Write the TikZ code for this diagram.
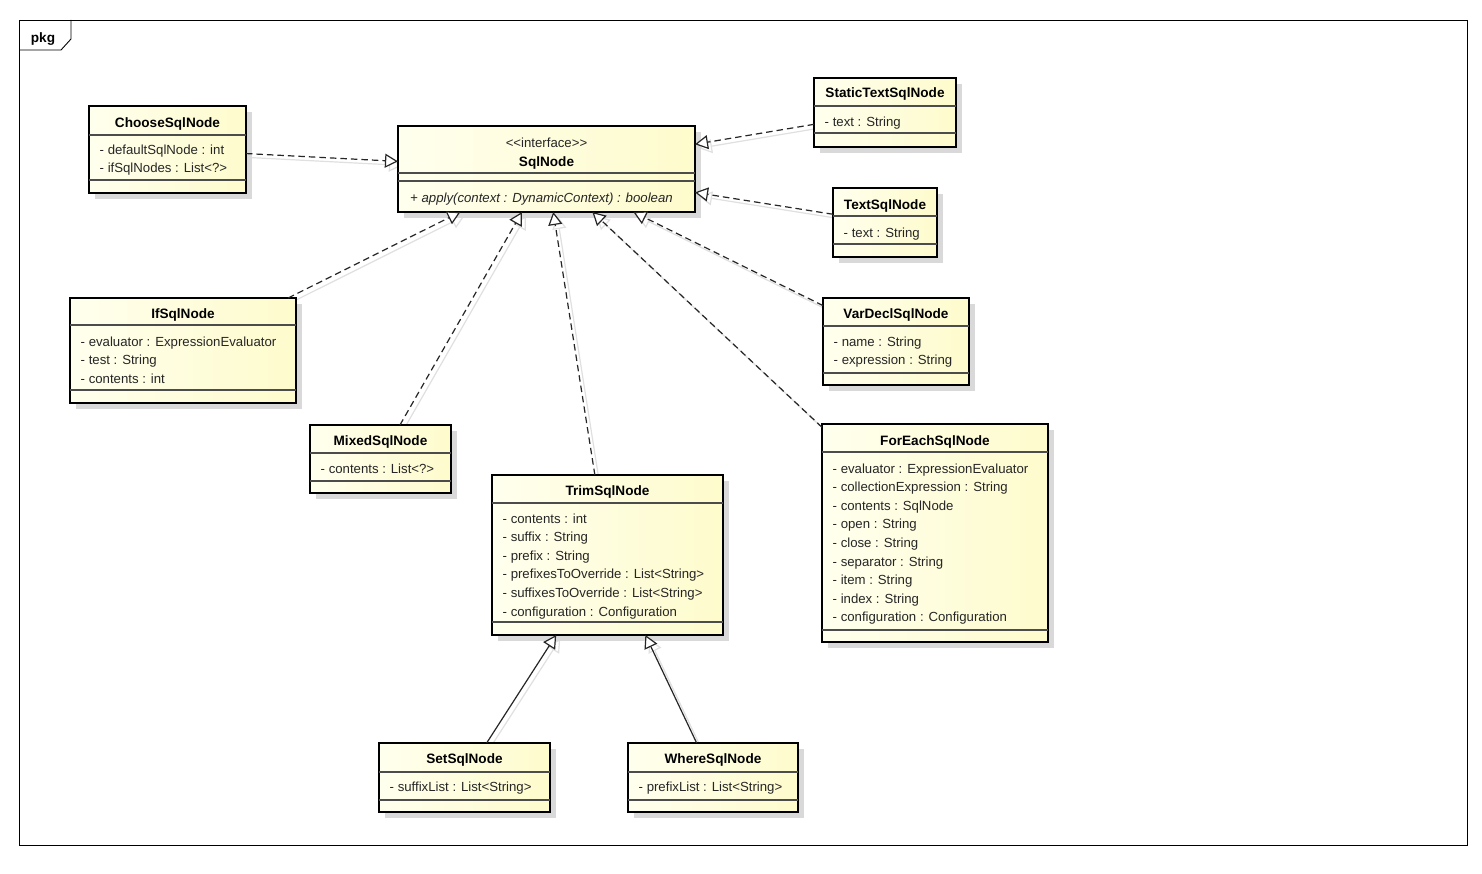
\documentclass[tikz,border=0pt]{standalone}
\usepackage{fontspec}
\setmainfont{Liberation Sans}
\usetikzlibrary{arrows.meta,shadows,backgrounds}
\definecolor{boxl}{RGB}{255,255,238}
\definecolor{boxr}{RGB}{254,251,204}
\newcommand\umlbox[5]{%
  \node[clsbox, minimum width={(#4-#2)*1pt}, minimum height={(#5-#3)*1pt}] (#1) at ({(#2+#4)/2},{(#3+#5)/2}) {};}
\newcommand\umldivs[3]{%
  \draw[divline] (#1.west |- 0,#2) -- (#1.east |- 0,#2);
  \draw[divline] (#1.west |- 0,#3) -- (#1.east |- 0,#3);}
\newcommand\umltitle[3]{\node[ttl] (#1-t) at (#1.center |- 0,#2) {#3};}
\newcommand\umlattrs[4]{%
  \foreach \t [count=\i from 0] in {#4} {%
    \pgfmathsetmacro\yy{#2+\i*#3}%
    \node[attr] (#1-a\i) at (#1.west |- 0,\yy) {\t};}}
\begin{document}
\begin{tikzpicture}[x=1pt,y=-1pt,
  clsbox/.style={draw=black, line width=2.6pt, left color=boxl, right color=boxr,
    inner sep=0pt, outer sep=0pt,
    drop shadow={shadow xshift=6pt, shadow yshift=-6pt, fill=black!15, opacity=1}},
  divline/.style={draw=black!70, line width=1.3pt},
  ttl/.style={inner sep=0pt, anchor=mid, yshift=-2.5pt, font=\fontsize{13.6}{15}\selectfont\bfseries},
  attr/.style={inner sep=0pt, anchor=mid west, xshift=10.5pt, yshift=-2.5pt, text=black!85, font=\fontsize{13.2}{15}\selectfont},
  realize/.style={draw=black!85, line width=1.2pt, dash pattern=on 6.5pt off 4pt,
    -{Triangle[length=13pt, width=14pt, fill=white]}},
  inherit/.style={draw=black!85, line width=1.2pt,
    -{Triangle[length=13pt, width=14pt, fill=white]}},
  shadowline/.style={draw=black!12, line width=1.2pt, transform canvas={shift={(4,4)}},
    -{Triangle[length=13pt, width=14pt, fill=none]}},
]
\useasboundingbox (0,0) rectangle (1482,874);
% frame
\draw[line width=0.9pt] (19,20) rectangle (1467,845);
\draw[line width=0.9pt] (19,50) -- (61,50) -- (71,39) -- (71,20);
\node[inner sep=0pt, anchor=mid, yshift=-2.5pt, font=\fontsize{13.6}{15}\selectfont\bfseries] (pkg) at (43,37) {pkg};

% classes
\umlbox{choose}{89}{106}{246}{193}
\umldivs{choose}{135}{180}
\umltitle{choose}{122}{ChooseSqlNode}
\umlattrs{choose}{149}{18.7}{- defaultSqlNode : int, - ifSqlNodes : List<?>}

\umlbox{sqlnode}{398}{126}{695}{212}
\umldivs{sqlnode}{173}{181}
\node[inner sep=0pt, anchor=mid, yshift=-2.5pt, text=black!85, font=\fontsize{13.2}{15}\selectfont] (sqlnode-s) at (sqlnode.center |- 0,142) {<{}<interface>{}>};
\umltitle{sqlnode}{161}{SqlNode}
\node[attr, xshift=1.5pt, font=\fontsize{13.2}{15}\selectfont\itshape] (sqlnode-op) at (sqlnode.west |- 0,197) {+ apply(context : DynamicContext) : boolean};

\umlbox{static}{814}{78}{956}{147}
\umldivs{static}{106}{133}
\umltitle{static}{92}{StaticTextSqlNode}
\umlattrs{static}{121}{18.7}{- text : String}

\umlbox{text}{833}{188}{937}{257}
\umldivs{text}{216}{244}
\umltitle{text}{204}{TextSqlNode}
\umlattrs{text}{232}{18.7}{- text : String}

\umlbox{ifnode}{70}{298}{296}{403}
\umldivs{ifnode}{325}{390}
\umltitle{ifnode}{313}{IfSqlNode}
\umlattrs{ifnode}{341}{18.7}{- evaluator : ExpressionEvaluator, - test : String, - contents : int}

\umlbox{mixed}{310}{425}{451}{493}
\umldivs{mixed}{453}{481}
\umltitle{mixed}{440}{MixedSqlNode}
\umlattrs{mixed}{468}{18.7}{- contents : List<?>}

\umlbox{trim}{492}{475}{723}{635}
\umldivs{trim}{503}{622}
\umltitle{trim}{490}{TrimSqlNode}
\umlattrs{trim}{518}{18.6}{- contents : int, - suffix : String, - prefix : String, - prefixesToOverride : List<String>, - suffixesToOverride : List<String>, - configuration : Configuration}

\umlbox{vardecl}{823}{298}{969}{385}
\umldivs{vardecl}{326}{373}
\umltitle{vardecl}{313}{VarDeclSqlNode}
\umlattrs{vardecl}{341}{18.7}{- name : String, - expression : String}

\umlbox{foreach}{822}{424}{1048}{642}
\umldivs{foreach}{452}{630}
\umltitle{foreach}{440}{ForEachSqlNode}
\umlattrs{foreach}{468}{18.6}{- evaluator : ExpressionEvaluator, - collectionExpression : String, - contents : SqlNode, - open : String, - close : String, - separator : String, - item : String, - index : String, - configuration : Configuration}

\umlbox{set}{379}{743}{550}{812}
\umldivs{set}{772}{800}
\umltitle{set}{758}{SetSqlNode}
\umlattrs{set}{786}{18.7}{- suffixList : List<String>}

\umlbox{where}{628}{743}{798}{812}
\umldivs{where}{772}{800}
\umltitle{where}{758}{WhereSqlNode}
\umlattrs{where}{786}{18.7}{- prefixList : List<String>}

% connector shadows
\begin{pgfonlayer}{background}
\fill[white] (0,0) rectangle (1482,874);
\foreach \a in {choose,static,text,ifnode,mixed,trim,vardecl,foreach}
  \draw[shadowline] (\a) -- (sqlnode);
\draw[shadowline] (set) -- (trim);
\draw[shadowline] (where) -- (trim);
\end{pgfonlayer}

% connectors
\draw[realize] (choose) -- (sqlnode);
\draw[realize] (static) -- (sqlnode);
\draw[realize] (text) -- (sqlnode);
\draw[realize] (ifnode) -- (sqlnode);
\draw[realize] (mixed) -- (sqlnode);
\draw[realize] (trim) -- (sqlnode);
\draw[realize] (vardecl) -- (sqlnode);
\draw[realize] (foreach) -- (sqlnode);
\draw[inherit] (set) -- (trim);
\draw[inherit] (where) -- (trim);
\end{tikzpicture}
\end{document}
